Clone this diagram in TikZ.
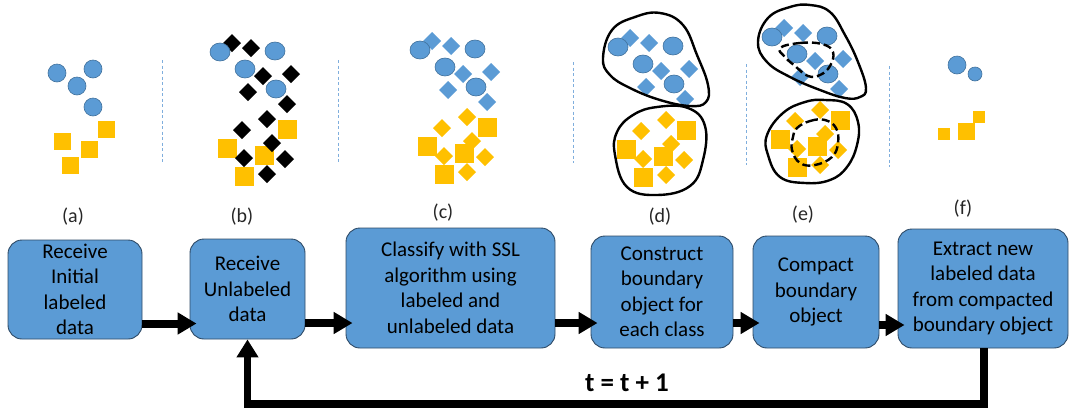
\documentclass[tikz,border=0pt]{standalone}
\usepackage{fontspec}
\setmainfont{Carlito}
\usetikzlibrary{arrows.meta}
\definecolor{bfill}{HTML}{5B9BD5}
\definecolor{bline}{HTML}{41719C}
\definecolor{yfill}{HTML}{FFC000}
\definecolor{boxline}{HTML}{2E4A66}
\definecolor{sepc}{HTML}{7FAEDD}
\newcommand\dmd[3]{\fill[#1] (#2-9,#3) -- (#2,#3-9) -- (#2+9,#3) -- (#2,#3+9) -- cycle;}
\newcommand\topgrp[1]{%
  \foreach \px/\py in {232/43,251/48,263/76,291/74,248/92,287/104}{\dmd{#1}{\px}{\py}}
  \foreach \px/\py in {220/52,275/51,245/69,276/89}{\filldraw[fill=bfill, draw=bline, line width=0.6pt] (\px,\py) ellipse [x radius=10pt, y radius=9pt];}
}
\newcommand\botgrp[1]{%
  \foreach \px/\py in {227/148,287/129,264/155,244/176}{\fill[yfill] (\px-9.5,\py-9.5) rectangle (\px+9.5,\py+9.5);}
  \foreach \px/\py in {267/119,242/130,272/143,244/158,285/159,267/174}{\dmd{#1}{\px}{\py}}
}
\begin{document}
\begin{tikzpicture}[x=1pt,y=-1pt,
  stepbox/.style={draw=boxline, line width=0.9pt, fill=bfill, rounded corners=14pt, align=center, inner sep=0pt, font=\fontsize{21}{25.5}\selectfont},
  flow/.style={line width=8pt, -{Triangle[length=19pt,width=21pt]}, shorten >=-7pt},
  lab/.style={font=\fontsize{20}{22}\selectfont, text=black!85},
  blob/.style={line width=2.4pt, line join=round},
  innerblob/.style={blob, dash pattern=on 8pt off 4pt},
  sepline/.style={draw=sepc, line width=0.8pt, dash pattern=on 3pt off 2.5pt}]

\useasboundingbox (0,0) rectangle (1071,408);

% separators
\draw[sepline] (162,60) -- (162,162);
\draw[sepline] (338,60) -- (338,162);
\draw[sepline] (573,62) -- (573,163);
\draw[sepline] (746,64) -- (746,165);
\draw[sepline] (889,66) -- (889,167);

% panel (a)
\foreach \px/\py in {57/73,93/69,77/86,93/107}{\filldraw[fill=bfill, draw=bline, line width=0.6pt] (\px,\py) circle [radius=9pt];}
\foreach \px/\py in {62/141,106/129,89/149,70/165}{\fill[yfill] (\px-8.5,\py-8.5) rectangle (\px+8.5,\py+8.5);}

% panel (b)
\botgrp{black}
\topgrp{black}

% panel (c)
\begin{scope}[shift={(200,-2)}]
  \botgrp{yfill}
  \topgrp{bfill}
\end{scope}

% panel (d)
\begin{scope}[shift={(399,1)}]\botgrp{yfill}\end{scope}
\begin{scope}[shift={(398,-5)}]\topgrp{bfill}\end{scope}
\draw[blob] plot[smooth cycle, tension=0.7] coordinates {(603,58) (612,30) (635,17) (660,13) (683,25) (697,55) (708,85) (706,102) (690,106) (660,100) (630,88) (610,75)};
\draw[blob] plot[smooth cycle, tension=0.7] coordinates {(617,132) (633,115) (657,107) (688,108) (705,126) (703,160) (690,186) (657,195) (627,187) (615,155)};

% panel (e)
\begin{scope}[shift={(553,-9)}]\botgrp{yfill}\end{scope}
\begin{scope}[shift={(552,-15)}]\topgrp{bfill}\end{scope}
\draw[blob] plot[smooth cycle, tension=0.7] coordinates {(758,42) (768,18) (790,7) (810,5) (830,12) (845,35) (858,62) (866,88) (860,97) (845,98) (820,90) (790,77) (767,62)};
\draw[blob] plot[smooth cycle, tension=0.7] coordinates {(767,135) (783,113) (805,102) (825,100) (847,104) (858,122) (857,145) (847,167) (830,180) (805,183) (780,177) (768,155)};
\draw[innerblob] plot[smooth cycle, tension=0.7] coordinates {(780,48) (800,43) (822,44) (833,52) (830,66) (820,75) (808,76) (795,66) (785,57)};
\draw[innerblob] plot[smooth cycle, tension=0.7] coordinates {(797,128) (810,121) (825,120) (836,128) (838,143) (832,157) (815,165) (800,163) (792,150) (793,137)};

% panel (f)
\filldraw[fill=bfill, draw=bline, line width=0.6pt] (957,65) circle [radius=9pt];
\filldraw[fill=bfill, draw=bline, line width=0.6pt] (975,74) circle [radius=7pt];
\fill[yfill] (938,128) rectangle (950,140);
\fill[yfill] (957.5,122.5) rectangle (974.5,139.5);
\fill[yfill] (973,111) rectangle (985,123);

% labels
\node[lab] (la) at (73,217) {(a)};
\node[lab] (lb) at (242,217) {(b)};
\node[lab] (lc) at (443,213) {(c)};
\node[lab] (ld) at (660,217) {(d)};
\node[lab] (le) at (803,215) {(e)};
\node[lab] (lf) at (963,209) {(f)};

% boxes
\node[stepbox, minimum width=134pt, minimum height=99pt] (a) at (75,289.5) {Receive\\Initial\\labeled\\data};
\node[stepbox, minimum width=115pt, minimum height=100pt] (b) at (247.5,289) {Receive\\Unlabeled\\data};
\node[stepbox, minimum width=209pt, minimum height=120pt] (c) at (450.5,288) {Classify with SSL\\algorithm using\\labeled and\\unlabeled data};
\node[stepbox, minimum width=142pt, minimum height=112pt] (d) at (662,292) {Construct\\boundary\\object for\\each class};
\node[stepbox, minimum width=126pt, minimum height=112pt] (e) at (816,292) {Compact\\boundary\\object};
\node[stepbox, minimum width=170pt, minimum height=119pt] (f) at (983,288.5) {Extract new\\labeled data\\from compacted\\boundary object};

% arrows
\draw[flow] ([yshift=-34pt]a.east) -- ([yshift=-34pt]a.east -| b.west);
\draw[flow] ([yshift=-34pt]b.east) -- ([yshift=-34pt]b.east -| c.west);
\draw[flow] ([yshift=-35pt]c.east) -- ([yshift=-35pt]c.east -| d.west);
\draw[flow] ([yshift=-31pt]d.east) -- ([yshift=-31pt]d.east -| e.west);
\draw[flow] ([yshift=-33pt]e.east) -- ([yshift=-33pt]e.east -| f.west);
\coordinate (loop) at (984,404);
\draw[line width=7.5pt, -{Triangle[length=18pt,width=21pt]}, line join=miter] (f.south -| loop) -- (loop) -| (b.south);
\node[font=\bfseries\fontsize{27}{30}\selectfont] (tt) at (627,383) {t = t + 1};
\end{tikzpicture}
\end{document}
